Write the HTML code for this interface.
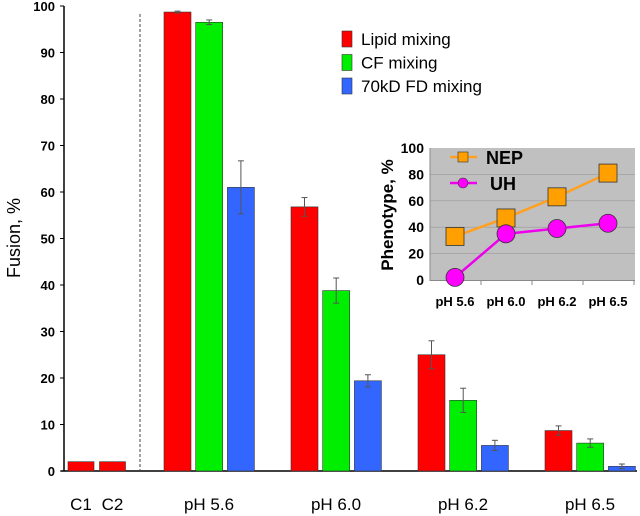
<!DOCTYPE html>
<html><head><meta charset="utf-8"><style>
body{margin:0;background:#fff;}
svg{display:block;font-family:"Liberation Sans",Arial,sans-serif;}
</style></head><body>
<svg id="c" width="640" height="516" viewBox="0 0 640 516"></svg>
<script>
const groups=["pH 5.6","pH 6.0","pH 6.2","pH 6.5"];
const lipid=[98.7,56.8,25,8.7];
const lipidErr=[0.2,2,3,1];
const cf=[96.5,38.8,15.2,6];
const cfErr=[0.5,2.7,2.6,0.9];
const fd=[61,19.4,5.5,1];
const fdErr=[5.7,1.3,1.1,0.5];
const controls=["C1","C2"];
const controlVals=[2,2];
const yTicks=[0,10,20,30,40,50,60,70,80,90,100];
const insetCats=["pH 5.6","pH 6.0","pH 6.2","pH 6.5"];
const nep=[33,47,63,81];
const uh=[2,35,39,43];
const insetTicks=[0,20,40,60,80,100];

const NS="http://www.w3.org/2000/svg";
const svg=document.getElementById('c');
function mk(t,a,p){const e=document.createElementNS(NS,t);for(const k in a)e.setAttribute(k,a[k]);(p||svg).appendChild(e);return e;}
const y=v=>471-v*4.65;
const gx=i=>164+i*127;
const colors=["#ff0000","#00ee00","#3366ff"];
const series=[lipid,cf,fd],errs=[lipidErr,cfErr,fdErr];
const sNames=["lipid","cf","fd"];

let e=mk('line',{x1:64,y1:6,x2:64,y2:471,stroke:'#000','stroke-width':1.5});

e=mk('line',{x1:61,y1:471,x2:637,y2:471,stroke:'#000','stroke-width':1.5});

yTicks.forEach(t=>{
 mk('line',{x1:60,y1:y(t),x2:64,y2:y(t),stroke:'#000','stroke-width':1});
 e=mk('text',{x:55,y:y(t)+5,'text-anchor':'end','font-size':13,'font-weight':'bold'});e.textContent=t;
 
});
e=mk('text',{x:0,y:0,transform:'translate(20,238) rotate(-90)','text-anchor':'middle','font-size':18});e.textContent='Fusion, %';

e=mk('line',{x1:140,y1:14,x2:140,y2:471,stroke:'#444','stroke-width':1,'stroke-dasharray':'3,2'});


controls.forEach((c,i)=>{
 const x=68+i*31.5;
 e=mk('rect',{x:x,y:y(controlVals[i]),width:26,height:471-y(controlVals[i]),fill:'#ff0000',stroke:'#333','stroke-width':0.6});
 
 e=mk('text',{x:x+13,y:510,'text-anchor':'middle','font-size':17});e.textContent=c;
 
});

groups.forEach((g,i)=>{
 series.forEach((s,j)=>{
  const x=gx(i)+j*31.7;
  e=mk('rect',{x:x,y:y(s[i]),width:27,height:471-y(s[i]),fill:colors[j],stroke:'#333','stroke-width':0.6});
  
  const cx=x+13.5,er=errs[j][i];
  mk('line',{x1:cx,y1:y(s[i]+er),x2:cx,y2:y(s[i]-er),stroke:'#555','stroke-width':1});
  mk('line',{x1:cx-3,y1:y(s[i]+er),x2:cx+3,y2:y(s[i]+er),stroke:'#555','stroke-width':1});
  mk('line',{x1:cx-3,y1:y(s[i]-er),x2:cx+3,y2:y(s[i]-er),stroke:'#555','stroke-width':1});
 });
 e=mk('text',{x:gx(i)+45,y:510,'text-anchor':'middle','font-size':17});e.textContent=g;
 
});

const legN=["Lipid mixing","CF mixing","70kD FD mixing"];
legN.forEach((n,j)=>{
 const yy=31+j*23.5;
 e=mk('rect',{x:342,y:yy,width:10,height:16,fill:colors[j],stroke:'#333','stroke-width':0.6});
 
 e=mk('text',{x:361,y:yy+14,'font-size':17});e.textContent=n;
 
});

const iy=v=>280-v*1.32;
const ix=i=>455+i*51;
e=mk('rect',{x:430,y:148,width:205,height:132,fill:'#c0c0c0'});

insetTicks.forEach(t=>{
 if(t>0&&t<100)mk('line',{x1:430,y1:iy(t),x2:635,y2:iy(t),stroke:'#999','stroke-width':0.6});
 e=mk('text',{x:424,y:iy(t)+5,'text-anchor':'end','font-size':14,'font-weight':'bold'});e.textContent=t;
 
});
mk('line',{x1:430,y1:148,x2:430,y2:281,stroke:'#888'});
mk('line',{x1:430,y1:280.5,x2:635,y2:280.5,stroke:'#888'});
insetCats.forEach((c,i)=>{
 mk('line',{x1:430+(i+1)*51,y1:280,x2:430+(i+1)*51,y2:285,stroke:'#888'});
 e=mk('text',{x:ix(i),y:306,'text-anchor':'middle','font-size':13,'font-weight':'bold'});e.textContent=c;
 
});
e=mk('text',{x:0,y:0,transform:'translate(393,215) rotate(-90)','text-anchor':'middle','font-size':17,'font-weight':'bold'});e.textContent='Phenotype, %';

e=mk('polyline',{points:nep.map((v,i)=>ix(i)+','+iy(v)).join(' '),fill:'none',stroke:'#ffa020','stroke-width':2.5});

e=mk('polyline',{points:uh.map((v,i)=>ix(i)+','+iy(v)).join(' '),fill:'none',stroke:'#ee00ee','stroke-width':2.5});

nep.forEach((v,i)=>{e=mk('rect',{x:ix(i)-9,y:iy(v)-9,width:18,height:18,fill:'#ffa000',stroke:'#333','stroke-width':0.8});
 });
uh.forEach((v,i)=>{e=mk('circle',{cx:ix(i),cy:iy(v),r:9,fill:'#ff00ff',stroke:'#333','stroke-width':0.8});
 });
mk('line',{x1:450,y1:157,x2:477,y2:157,stroke:'#ffa020','stroke-width':2.5});
mk('rect',{x:458,y:152,width:10,height:10,fill:'#ffa000',stroke:'#333','stroke-width':0.6});
e=mk('text',{x:486,y:164,'font-size':18,'font-weight':'bold'});e.textContent='NEP';

mk('line',{x1:450,y1:183,x2:477,y2:183,stroke:'#ee00ee','stroke-width':2.5});
mk('circle',{cx:463,cy:183,r:5,fill:'#ff00ff',stroke:'#333','stroke-width':0.6});
e=mk('text',{x:490,y:190,'font-size':18,'font-weight':'bold'});e.textContent='UH';

</script>
</body></html>
